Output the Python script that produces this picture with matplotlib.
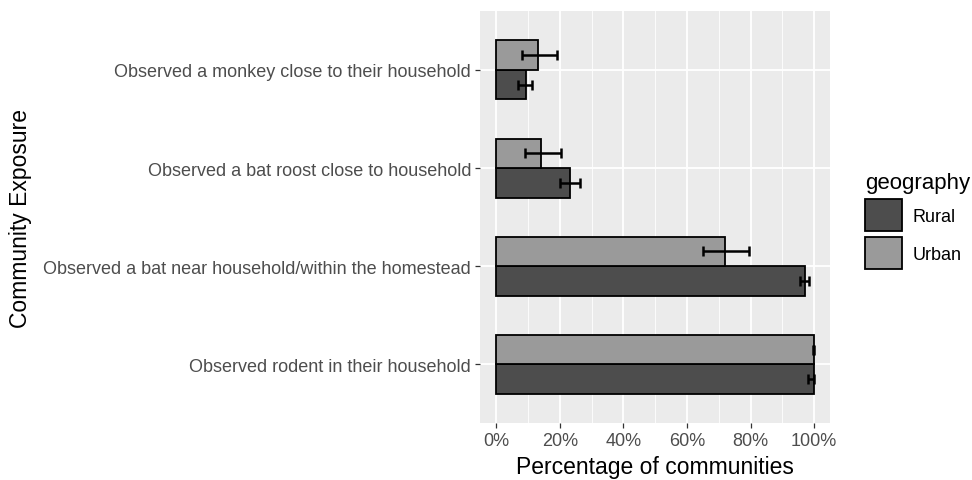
import numpy as np
import matplotlib.pyplot as plt
from matplotlib.patches import Patch
from matplotlib.ticker import FuncFormatter, MultipleLocator

plt.rcParams['font.family'] = ['Liberation Sans', 'DejaVu Sans']

# exposure categories, bottom to top
categories = [
    'Observed rodent in their household',
    'Observed a bat near household/within the homestead',
    'Observed a bat roost close to household',
    'Observed a monkey close to their household',
]

rural = [100, 97.2, 23.2, 9.3]
rural_lo = [98.2, 95.5, 20.0, 6.8]
rural_hi = [100, 98.3, 26.3, 11.4]

urban = [100, 72.0, 14.2, 13.2]
urban_lo = [99.6, 65.0, 9.0, 8.0]
urban_hi = [100, 79.4, 20.3, 19.2]

rural_col = '#4d4d4d'
urban_col = '#9a9a9a'
panel_bg = '#ebebeb'

fig = plt.figure(figsize=(9.72, 4.81), dpi=100)
ax = fig.add_axes([0.494, 0.118, 0.360, 0.857])
ax.set_facecolor(panel_bg)

y = np.arange(1, len(categories) + 1)
h = 0.3

ax.barh(y - h / 2, rural, height=h, color=rural_col, edgecolor='black', linewidth=1.3, zorder=3)
ax.barh(y + h / 2, urban, height=h, color=urban_col, edgecolor='black', linewidth=1.3, zorder=3)

r = np.array(rural)
u = np.array(urban)
ax.errorbar(r, y - h / 2, xerr=[r - np.array(rural_lo), np.array(rural_hi) - r],
            fmt='none', ecolor='black', elinewidth=1.8, capsize=3.5, capthick=1.8, zorder=4)
ax.errorbar(u, y + h / 2, xerr=[u - np.array(urban_lo), np.array(urban_hi) - u],
            fmt='none', ecolor='black', elinewidth=1.8, capsize=3.5, capthick=1.8, zorder=4)

ax.set_xlim(-5, 105)
ax.set_ylim(0.4, 4.6)
ax.xaxis.set_major_locator(MultipleLocator(20))
ax.xaxis.set_minor_locator(MultipleLocator(10))
ax.xaxis.set_major_formatter(FuncFormatter(lambda v, p: f'{v:.0f}%'))
ax.set_yticks(y)
ax.set_yticklabels(categories)

ax.grid(which='major', color='white', linewidth=1.3, zorder=0)
ax.grid(which='minor', axis='x', color='white', linewidth=0.6, zorder=0)
ax.set_axisbelow(True)
for s in ax.spines.values():
    s.set_visible(False)

ax.tick_params(axis='both', which='major', length=3.5, width=0.9, color='#333333',
               labelsize=13, labelcolor='#4d4d4d', pad=3)
ax.tick_params(axis='x', which='minor', length=0)

ax.set_xlabel('Percentage of communities', fontsize=16.5, labelpad=4)
ax.set_ylabel('Community Exposure', fontsize=16.5)
ax.yaxis.set_label_coords(-1.28, 0.5)

handles = [Patch(facecolor=rural_col, edgecolor='black', linewidth=1.3, label='Rural'),
           Patch(facecolor=urban_col, edgecolor='black', linewidth=1.3, label='Urban')]
leg = fig.legend(handles=handles, title='geography', loc='upper left',
                 bbox_to_anchor=(0.883, 0.655), frameon=False, fontsize=13,
                 title_fontsize=16, handlelength=2.0, handleheight=2.3,
                 handletextpad=0.6, labelspacing=0.35, borderaxespad=0)
leg._legend_box.align = 'left'

fig.savefig('out.png', dpi=100)
